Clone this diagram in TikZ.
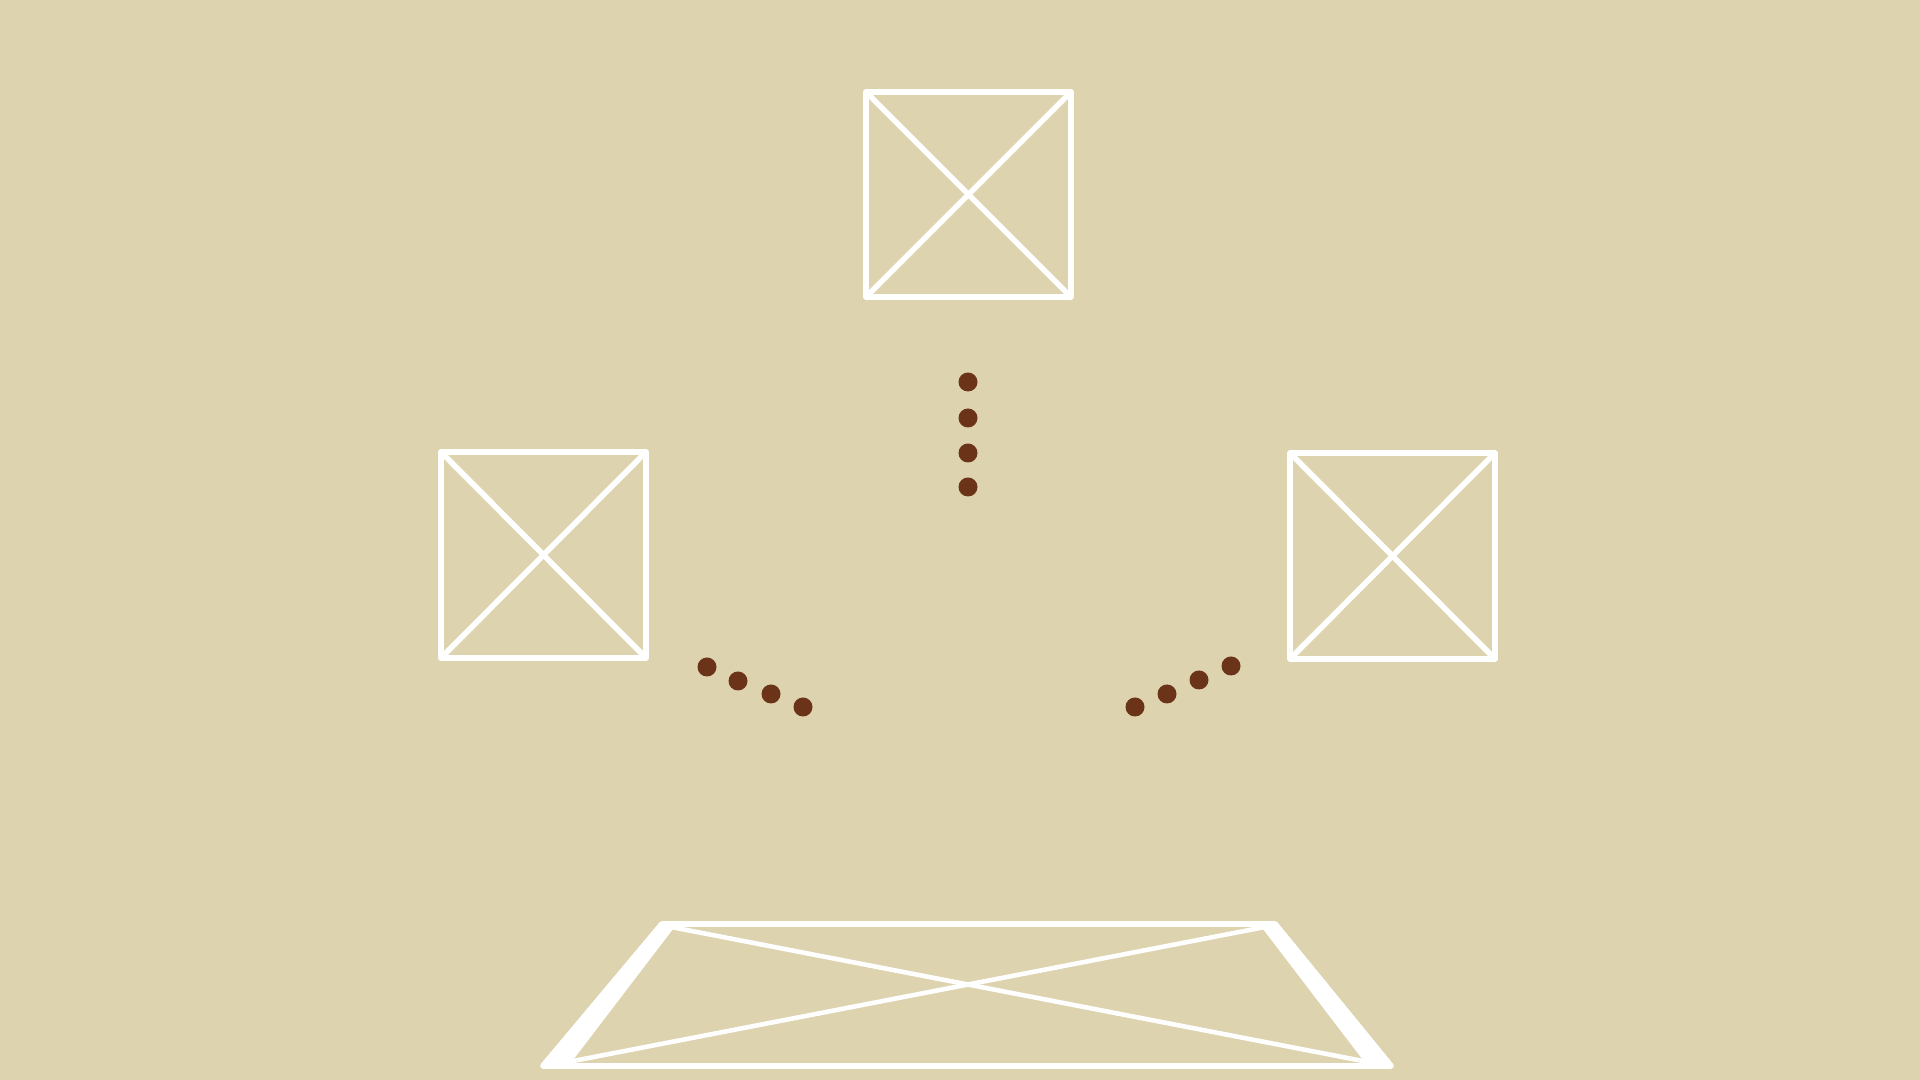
\documentclass[tikz,border=0pt]{standalone}
\usepackage{tikz}

\definecolor{sand}{HTML}{DDD3AF}
\definecolor{bark}{HTML}{6B3318}

\begin{document}
\begin{tikzpicture}[x=0.01cm,y=-0.01cm,
    frame/.style={draw=white,line width=1.6pt,line join=round},
    pebble/.style={fill=bark,draw=none}]
    %background
    \fill [sand] (0,0) rectangle (1920,1080);
    \useasboundingbox (0,0) rectangle (1920,1080);
    %top square
    \draw [frame] (866,92) rectangle (1071,297);
    \draw [frame] (869,95) -- (1068,294);
    \draw [frame] (1068,95) -- (869,294);
    %left square
    \draw [frame] (441,452) rectangle (646,658);
    \draw [frame] (444,455) -- (643,655);
    \draw [frame] (643,455) -- (444,655);
    %right square
    \draw [frame] (1290,453) rectangle (1495,659);
    \draw [frame] (1293,456) -- (1492,656);
    \draw [frame] (1492,456) -- (1293,656);
    %floor
    \draw [frame] (662,924) -- (1275,924) -- (1391,1066) -- (543,1066) -- cycle;
    \filldraw [frame,fill=white] (662,924) -- (671,927) -- (568,1062) -- (543,1066) -- cycle;
    \filldraw [frame,fill=white] (1275,924) -- (1265,927) -- (1368,1062) -- (1391,1066) -- cycle;
    \draw [frame,line width=1.3pt] (671,927) -- (1368,1062);
    \draw [frame,line width=1.3pt] (1265,927) -- (568,1062);
    %dots
    \foreach \y in {382,418,453,487}
      \fill [pebble] (968,\y) circle (9.5);
    \foreach \x/\y in {707/667,738/681,771/694,803/707}
      \fill [pebble] (\x,\y) circle (9.5);
    \foreach \x/\y in {1231/666,1199/680,1167/694,1135/707}
      \fill [pebble] (\x,\y) circle (9.5);
\end{tikzpicture}
\end{document}
